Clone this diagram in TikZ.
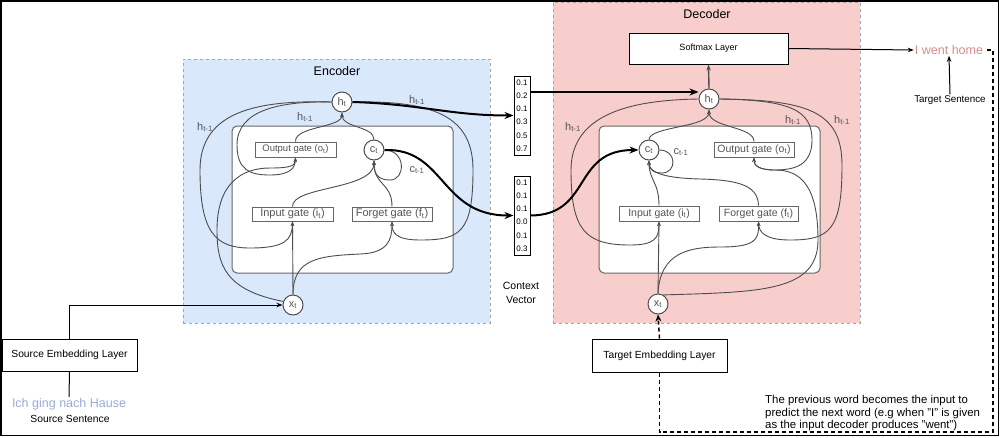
\documentclass[tikz,border=0pt]{standalone}
\usepackage{fontspec}
\setmainfont{Liberation Sans}
\usetikzlibrary{arrows.meta,calc}
\definecolor{encfill}{HTML}{DAE8FC}
\definecolor{decfill}{HTML}{F8CECC}
\definecolor{lstm}{HTML}{4D4D4D}
\definecolor{gatetxt}{HTML}{555555}
\definecolor{srccol}{HTML}{98ACD4}
\definecolor{tgtcol}{HTML}{D48E8E}
\tikzset{
  panel/.style={draw=gray!70, dashed, line width=1pt, inner sep=0},
  innerbox/.style={draw=gray!80!black, fill=white, rounded corners=5pt, line width=1pt, inner sep=0},
  cell/.style={circle, draw=lstm, fill=white, line width=1pt, minimum size=20pt, inner sep=0, text=gatetxt, font=\fontsize{11}{12}\selectfont},
  gate/.style={draw=gray!80!black, fill=white, line width=1pt, inner sep=0, text=gatetxt},
  lbl/.style={text=gatetxt, font=\fontsize{11}{12}\selectfont, inner sep=0},
  wire/.style={draw=lstm, line width=0.9pt},
  warr/.style={wire, -{Stealth[length=4.5pt,width=3.5pt]}},
  thick arrow/.style={draw=black, line width=2pt, -{Stealth[length=9pt,width=7pt]}},
  thin arrow/.style={draw=black, line width=1pt, -{Stealth[length=6pt,width=4.5pt]}},
  vec/.style={draw, line width=1pt, fill=white, minimum width=16pt, minimum height=79pt, inner sep=1.2pt, align=left, font=\fontsize{8}{13.2}\selectfont},
  embed/.style={draw, line width=1pt, fill=white, minimum width=135pt, minimum height=32pt, inner sep=0, font=\fontsize{10.3}{12}\selectfont},
  fbdash/.style={draw=black, line width=1.5pt, dash pattern=on 4pt off 3pt},
}
\begin{document}
\begin{tikzpicture}[x=1pt,y=-1pt]
\useasboundingbox (0,0) rectangle (1000,437);
\fill[white] (0,0) rectangle (1000,437);
\draw[black, line width=1.6pt] (1,1) rectangle (998.5,435.5);

% panels
\node[panel, fill=encfill, minimum width=307pt, minimum height=264pt] (enc) at (336.5,191) {};
\node[panel, fill=decfill, minimum width=307pt, minimum height=321pt] (dec) at (706.5,162.5) {};
\node[font=\fontsize{12.5}{14}\selectfont] (enctitle) at (337,71) {Encoder};
\node[font=\fontsize{12.5}{14}\selectfont] (dectitle) at (707,14) {Decoder};
\node[innerbox, minimum width=221pt, minimum height=147pt] (encin) at (342.5,199.5) {};
\node[innerbox, minimum width=221pt, minimum height=147pt] (decin) at (709.5,199.5) {};

% encoder nodes
\node[cell] (eh) at (342,102) {h\textsubscript{t}};
\node[cell] (ec) at (374,150) {c\textsubscript{t}};
\node[cell] (ex) at (293,305) {x\textsubscript{t}};
\node[gate, minimum width=81pt, minimum height=15pt, font=\fontsize{9.5}{11}\selectfont] (eo) at (295.5,149.5) {Output gate (o\textsubscript{t})};
\node[gate, minimum width=81pt, minimum height=14pt, font=\fontsize{11}{12}\selectfont] (ei) at (292.5,214) {Input gate (i\textsubscript{t})};
\node[gate, minimum width=80pt, minimum height=14pt, font=\fontsize{11}{12}\selectfont] (ef) at (392,214) {Forget gate (f\textsubscript{t})};

% decoder nodes
\node[draw, line width=1pt, fill=white, minimum width=159pt, minimum height=31pt, inner sep=0, font=\fontsize{9}{10}\selectfont] (dsm) at (708.5,48.5) {Softmax Layer};
\node[cell] (dh) at (709,99) {h\textsubscript{t}};
\node[cell] (dc) at (649,150) {c\textsubscript{t}};
\node[cell] (dx) at (658,304) {x\textsubscript{t}};
\node[gate, minimum width=80pt, minimum height=15pt, font=\fontsize{10.5}{12}\selectfont] (do) at (754,149.5) {Output gate (o\textsubscript{t})};
\node[gate, minimum width=80pt, minimum height=15pt, font=\fontsize{10.5}{12}\selectfont] (di) at (659,213.5) {Input gate (i\textsubscript{t})};
\node[gate, minimum width=79pt, minimum height=15pt, font=\fontsize{10.5}{12}\selectfont] (df) at (758.5,213.5) {Forget gate (f\textsubscript{t})};

% context vectors
\node[vec] (cv1) at (522,115.5) {0.1\\0.2\\0.1\\0.3\\0.5\\0.7};
\node[vec] (cv2) at (522,215.5) {0.1\\0.1\\0.1\\0.0\\0.1\\0.3};
\node[align=center, font=\fontsize{10.5}{14}\selectfont, inner sep=0] (ctx) at (521,293) {Context\\Vector};

% embedding layers and sentences
\node[embed] (sel) at (69.5,355) {Source Embedding Layer};
\node[embed, minimum height=33pt] (tel) at (659.5,355.5) {Target Embedding Layer};
\node[text=srccol, font=\fontsize{12.5}{14}\selectfont, inner sep=1pt] (srcsent) at (69,404) {Ich ging nach Hause};
\node[font=\fontsize{10.3}{12}\selectfont, inner sep=0] (srclbl) at (70,419) {Source Sentence};
\node[text=tgtcol, font=\fontsize{12.5}{14}\selectfont, inner sep=1pt] (iwent) at (949,50) {I went home};
\node[font=\fontsize{9.8}{12}\selectfont, inner sep=1pt] (tgtlbl) at (950,100) {Target Sentence};
\node[anchor=north west, align=left, font=\fontsize{11.4}{12.6}\selectfont, inner sep=0] (note) at (765,395) {The previous word becomes the input to\\predict the next word (e.g when "I" is given\\as the input decoder produces "went")};

% labels
\node[lbl] (el1) at (205,127) {h\textsubscript{t-1}};
\node[lbl] (el2) at (305,117) {h\textsubscript{t-1}};
\node[lbl] (el3) at (417,100) {h\textsubscript{t-1}};
\node[lbl] (el4) at (417,170) {c\textsubscript{t-1}};
\node[lbl] (dl1) at (573,127) {h\textsubscript{t-1}};
\node[lbl] (dl2) at (793,120) {h\textsubscript{t-1}};
\node[lbl] (dl3) at (842,120) {h\textsubscript{t-1}};
\node[lbl] (dl4) at (681,152) {c\textsubscript{t-1}};

% ---------- encoder wiring ----------
\draw[warr] (ex.north) -- (ei.south);
\draw[warr] (ex.north) .. controls (293,258) and (320,256) .. (360,254) .. controls (388,253) and (392,240) .. (ef.south);
\draw[warr] (ex.160) .. controls (225,290) and (217,265) .. (217,230) .. controls (217,185) and (240,168) .. (270,168) .. controls (290,168) and (295,166) .. (eo.south);
\draw[warr] (eh.west) .. controls (260,100) and (200,110) .. (200,170) .. controls (200,232) and (215,248) .. (250,248) .. controls (285,248) and (292,240) .. (ei.south);
\draw[warr] (eh.west) .. controls (280,101) and (237,110) .. (237,145) .. controls (237,170) and (250,175) .. (270,175) .. controls (290,175) and (295,168) .. (eo.south);
\draw[warr] (eh.east) .. controls (440,100) and (473,120) .. (473,170) .. controls (473,233) and (460,240) .. (420,240) .. controls (395,240) and (392,232) .. (ef.south);
\draw[warr] (eo.north) .. controls (295,126) and (342,128) .. (eh.south);
\draw[warr] (ec.north) .. controls (374,126) and (342,128) .. (eh.south);
\draw[warr] (ei.north) .. controls (292,186) and (374,190) .. (ec.south);
\draw[warr] (ef.north) .. controls (392,182) and (374,186) .. (ec.south);
\draw[warr] (ec.east) .. controls (406,150) and (406,180) .. (390,180) .. controls (377,180) and (374,173) .. (ec.south);

% ---------- decoder wiring ----------
\draw[warr] (dx.north) -- (di.south);
\draw[warr] (dx.north) .. controls (660,252) and (690,247) .. (720,247) .. controls (755,247) and (759,240) .. (df.south);
\draw[warr] (dx.60) .. controls (760,292) and (818,292) .. (818,240) .. controls (818,185) and (800,170) .. (775,170) .. controls (758,170) and (754,165) .. (do.south);
\draw[warr] (dh.east) .. controls (790,100) and (812,110) .. (812,140) .. controls (812,165) and (795,170) .. (775,170) .. controls (758,170) and (754,165) .. (do.south);
\draw[warr] (dh.east) .. controls (805,100) and (842,110) .. (842,165) .. controls (842,230) and (830,240) .. (790,240) .. controls (765,240) and (759,232) .. (df.south);
\draw[warr] (dh.west) .. controls (640,100) and (571,110) .. (571,170) .. controls (571,230) and (585,245) .. (630,245) .. controls (655,245) and (659,238) .. (di.south);
\draw[warr] (dc.north) .. controls (650,126) and (709,128) .. (dh.south);
\draw[warr] (do.north) .. controls (754,126) and (709,128) .. (dh.south);
\draw[wire, line width=1.4pt, -{Stealth[length=6pt,width=4.5pt]}] (dh.north) -- (dsm.south);
\draw[warr] (dc.east) .. controls (677,150) and (677,173) .. (662,173) .. controls (652,173) and (649,168) .. (dc.south);
\draw[warr] (di.north) .. controls (659,182) and (649,180) .. (dc.south);
\draw[warr] (df.north) .. controls (758,186) and (740,180) .. (700,179) .. controls (662,178) and (649,172) .. (dc.south);

% ---------- context connections ----------
\coordinate (cv1out) at ($(cv1.east)+(0,-23.5)$);
\draw[thick arrow] (eh.east) .. controls (420,104) and (450,115.5) .. (cv1.west);
\draw[draw=black, line width=1.6pt, -{Stealth[length=9pt,width=7pt]}] (cv1out) -- (cv1out -| dh.west);
\draw[thick arrow] (ec.east) .. controls (445,148) and (440,215.5) .. (cv2.west);
\draw[thick arrow] (cv2.east) .. controls (592,215) and (572,150) .. (dc.west);

% ---------- embeddings / outputs ----------
\draw[thin arrow] (sel.north) |- (ex.west);
\draw[line width=1pt] (sel.south) -- (srcsent.north);
\draw[thin arrow] (dsm.east) -- (iwent.west);
\draw[thin arrow] (tgtlbl.north) -- (iwent.south);
\draw[fbdash, -{Stealth[length=7pt,width=6pt]}] (tel.north) -- (dx.south);
\coordinate (fb1) at (659.5,432);
\coordinate (fb2) at (993,432);
\coordinate (fb3) at (993,50);
\draw[fbdash] (tel.south) -- (fb1) -- (fb2) -- (fb3) -- (iwent.east);
\end{tikzpicture}
\end{document}
